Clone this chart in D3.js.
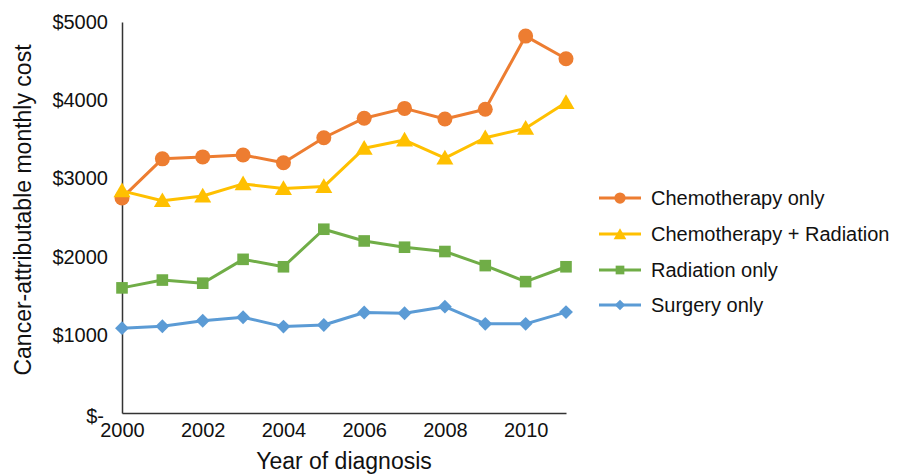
<!DOCTYPE html>
<html><head><meta charset="utf-8">
<script src="https://cdn.jsdelivr.net/npm/d3@7"></script>
<style>body{margin:0;background:#fff}svg{display:block;font-family:"Liberation Sans",Arial,sans-serif}</style>
</head><body><svg id="c" width="899" height="475"></svg>
<script>
const years = [2000,2001,2002,2003,2004,2005,2006,2007,2008,2009,2010,2011];
const chemoOnly = [2750,3250,3275,3300,3200,3520,3770,3895,3760,3885,4820,4530];
const chemoRad = [2840,2715,2775,2930,2870,2895,3385,3490,3260,3520,3640,3970];
const radiationOnly = [1600,1700,1660,1965,1870,2350,2200,2120,2065,1885,1680,1870];
const surgeryOnly = [1085,1110,1180,1225,1105,1125,1285,1275,1360,1140,1140,1290];
const seriesNames = ["Chemotherapy only","Chemotherapy + Radiation","Radiation only","Surgery only"];
const yTicks = [0,1000,2000,3000,4000,5000];
const xTicks = [2000,2002,2004,2006,2008,2010];

const colors = ["#ED7D31","#FFC000","#70AD47","#5B9BD5"];
const FONT = "Liberation Sans, Arial, sans-serif";

const svg = d3.select("#c");
const x = d3.scaleLinear().domain([2000,2011]).range([122,566]);
const y = d3.scaleLinear().domain([0,5000]).range([413,22]);

function marker(g, k, s){
  const c = colors[k];
  if(k===0) g.append("circle").attr("r",7.5*s).attr("fill",c);
  else if(k===1) g.append("path").attr("d",d3.symbol().type(d3.symbolTriangle).size(125*s*s)).attr("transform","translate(0,1.5)").attr("fill",c);
  else if(k===2) g.append("rect").attr("x",-5.8*s).attr("y",-5.8*s).attr("width",11.6*s).attr("height",11.6*s).attr("fill",c);
  else g.append("rect").attr("x",-4.9*s).attr("y",-4.9*s).attr("width",9.8*s).attr("height",9.8*s).attr("transform","rotate(45)").attr("fill",c);
}

const yAxis = d3.axisLeft(y).tickValues(yTicks).tickSize(0).tickPadding(14)
  .tickFormat(d => d===0 ? "$-" : "$"+d);
const gy = svg.append("g").attr("transform","translate(122,0)").call(yAxis);
gy.select(".domain").attr("stroke","#333").attr("stroke-width",1.5);
gy.selectAll("text").attr("font-size",20).attr("fill","#111").attr("font-family",FONT);
gy.selectAll(".tick").filter(d=>d===0).select("text").attr("dy","0.45em").attr("dx","-4");

const xAxis = d3.axisBottom(x).tickValues(xTicks).tickSize(0).tickPadding(10).tickFormat(d3.format("d"));
const gx = svg.append("g").attr("transform","translate(0,413)").call(xAxis);
gx.select(".domain").attr("stroke","#333").attr("stroke-width",1.5);
gx.selectAll("text").attr("font-size",20).attr("fill","#111").attr("font-family",FONT);

svg.append("text").attr("x",344).attr("y",469).attr("text-anchor","middle")
  .attr("font-size",23).attr("fill","#111").attr("font-family",FONT).text("Year of diagnosis");
svg.append("text").attr("transform","translate(31,210) rotate(-90)").attr("text-anchor","middle")
  .attr("font-size",23).attr("fill","#111").attr("font-family",FONT).text("Cancer-attributable monthly cost");

const data = [chemoOnly,chemoRad,radiationOnly,surgeryOnly];
const line = d3.line().x((d,i)=>x(years[i])).y(d=>y(d));
data.forEach((vals,k)=>{
  svg.append("path").datum(vals).attr("d",line).attr("fill","none")
    .attr("stroke",colors[k]).attr("stroke-width",3).attr("stroke-linejoin","round");
  svg.append("g").selectAll("g").data(vals).join("g")
    .attr("transform",(d,i)=>`translate(${x(years[i])},${y(d)})`)
    .each(function(){ marker(d3.select(this),k,1); });
});

const legY = [198,234,270,305];
seriesNames.forEach((n,k)=>{
  const g = svg.append("g").attr("transform",`translate(0,${legY[k]})`);
  g.append("line").attr("x1",599).attr("x2",641).attr("stroke",colors[k]).attr("stroke-width",3);
  marker(g.append("g").attr("transform","translate(620,0)"),k,0.75);
  g.append("text").attr("x",651).attr("y",0).attr("dy","0.35em").attr("font-size",20).attr("fill","#111").attr("font-family",FONT).text(n);
});
</script></body></html>
